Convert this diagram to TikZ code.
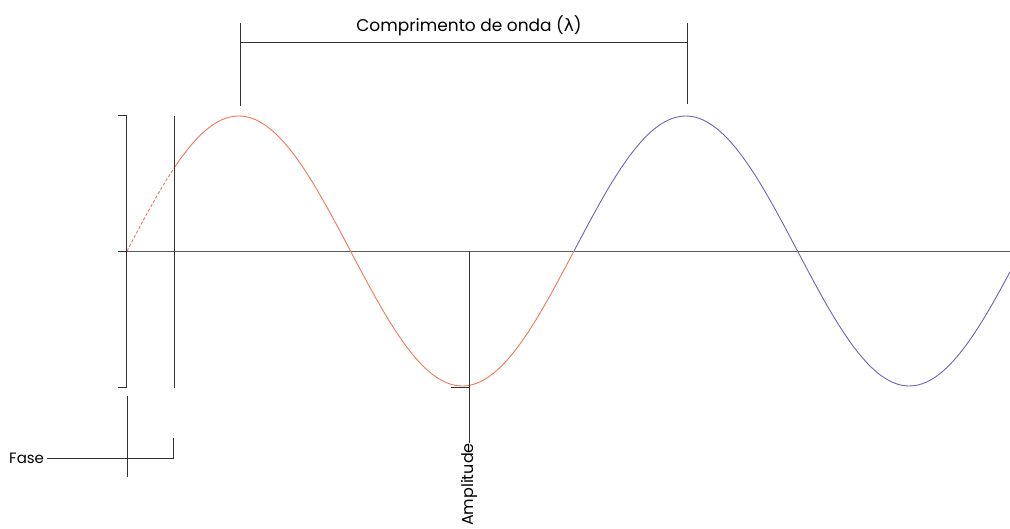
\documentclass[tikz,border=0pt]{standalone}
\usepackage{fontspec}
\setmainfont{Poppins}
\newfontfamily\greekfont{DejaVu Sans}
\definecolor{wavered}{RGB}{240,120,90}
\definecolor{waveblue}{RGB}{110,100,180}
\definecolor{dimline}{RGB}{50,50,50}
\begin{document}
\begin{tikzpicture}[x=1pt,y=-1pt,
  dim/.style={draw=dimline,line width=0.9pt},
  axisline/.style={draw=dimline!80,line width=0.9pt},
  lbl/.style={font=\fontsize{15}{17}\selectfont,inner sep=0pt,text=black}]
\useasboundingbox (0,0) rectangle (1010,529);
% axis
\coordinate (axL) at (118,251);
\coordinate (axR) at (1010,251);
\draw[axisline] (axL) -- (axR);
% wave
\draw[wavered,line width=0.9pt,dash pattern=on 3pt off 2pt] plot[domain=127:175,samples=20,smooth] (\x,{251-135*sin((\x-127)/447*360)});
\draw[wavered,line width=0.9pt] plot[domain=175:574,samples=120,smooth] (\x,{251-135*sin((\x-127)/447*360)});
\draw[waveblue,line width=0.9pt] plot[domain=574:1010,samples=130,smooth] (\x,{251-135*sin((\x-127)/447*360)});
% wavelength dimension
\coordinate (wl1t) at (240,23);
\coordinate (wl1b) at (240,106);
\coordinate (wl2t) at (687,23);
\coordinate (wl2b) at (687,104);
\coordinate (wlm1) at (240,42);
\coordinate (wlm2) at (687,42);
\draw[dim] (wl1t) -- (wl1b);
\draw[dim] (wl2t) -- (wl2b);
\draw[dim] (wlm1) -- (wlm2);
\node[lbl,font=\fontsize{17}{19}\selectfont] (wl) at (469,26) {Comprimento de onda ({\greekfont λ})};
% left bracket (amplitude span)
\coordinate (bT) at (126,115);
\coordinate (bB) at (126,387);
\draw[dim] (118,115) -- (bT) -- (bB) -- (118,387);
\draw[dim] (118,251) -- (126,251);
% phase line
\coordinate (pT) at (174,116);
\coordinate (pB) at (174,388);
\draw[dim] (pT) -- (pB);
% phase dimension
\coordinate (f1t) at (127,396);
\coordinate (f1b) at (127,477);
\draw[dim] (f1t) -- (f1b);
\node[lbl,anchor=west] (fase) at (9,458) {Fase};
\coordinate (f2t) at (173,438);
\coordinate (f2b) at (173,458);
\draw[dim] (fase.east) ++(3,0) -- (f2b) -- (f2t);
% amplitude
\coordinate (aT) at (469,251);
\coordinate (aM) at (469,387);
\coordinate (aL) at (451,387);
\draw[dim] (aL) -- (aM);
\node[lbl,font=\fontsize{16}{18}\selectfont,rotate=90,anchor=east] (amp) at (469,443) {Amplitude};
\draw[dim] (aT) -- (aT |- amp.east);
\end{tikzpicture}
\end{document}
